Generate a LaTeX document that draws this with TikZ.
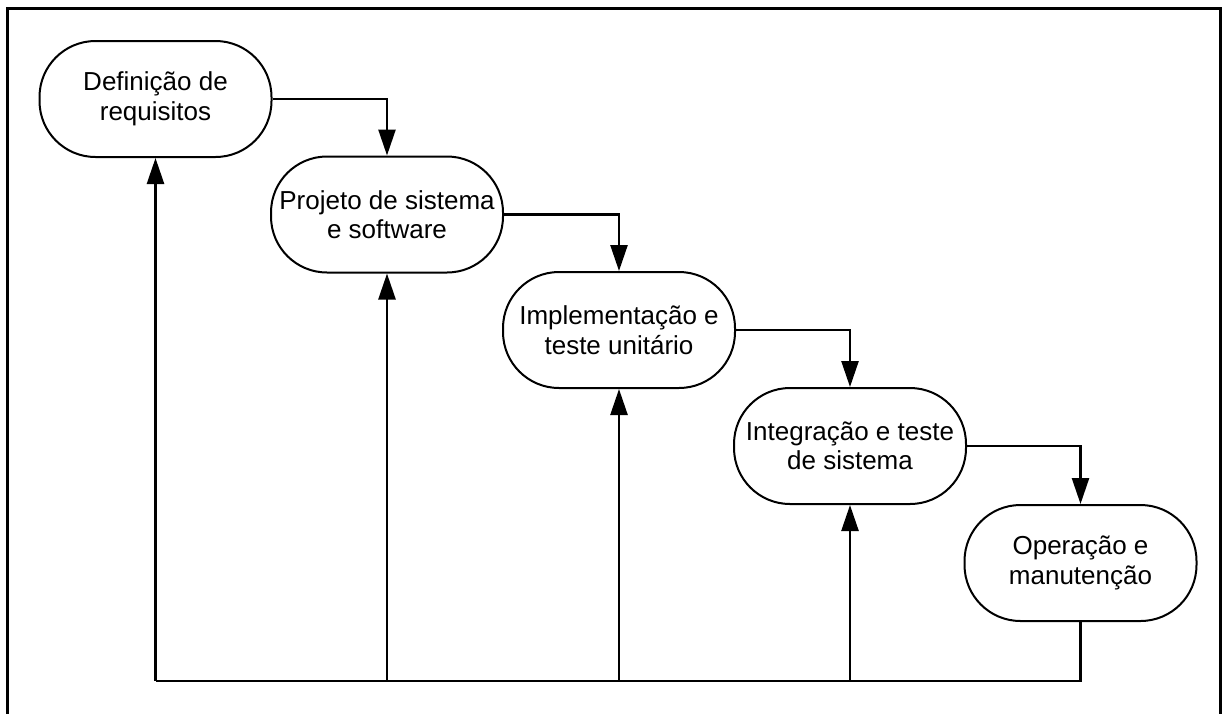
\documentclass[tikz,border=0pt]{standalone}
\usepackage{fontspec}
\setmainfont{Liberation Sans}
\usetikzlibrary{arrows.meta}
\begin{document}
\begin{tikzpicture}[x=1pt,y=-1pt,
  phase/.style={draw=black, line width=2pt, rounded corners=56pt,
    minimum width=232pt, minimum height=116pt, align=center,
    inner sep=0pt, font=\fontsize{26}{29.5}\selectfont},
  link/.style={draw=black, line width=2.5pt},
  arr/.style={link, -{Triangle[length=26pt,width=17pt]}}]
  \useasboundingbox (0,0) rectangle (1222,713);
  % outer frame (open at the bottom)
  \draw[line width=3pt] (7,720) -- (7,8) -- (1220,8) -- (1220,720);

  \node[phase] (n1) at (155.5,99) {Definição de\\requisitos};
  \node[phase] (n2) at (387,214.5) {Projeto de sistema\\e software};
  \node[phase] (n3) at (619,330) {Implementação e\\teste unitário};
  \node[phase] (n4) at (850,446) {Integração e teste\\de sistema};
  \node[phase] (n5) at (1080.5,563) {Operação e\\manutenção};

  % forward flow
  \draw[arr] (n1.east) -| (n2.north);
  \draw[arr] (n2.east) -| (n3.north);
  \draw[arr] (n3.east) -| (n4.north);
  \draw[arr] (n4.east) -| (n5.north);

  % feedback line
  \coordinate (base) at (155.5,681);
  \draw[link] (n5.south) |- (base);
  \draw[arr] (n1 |- base) -- (n1.south);
  \draw[arr] (n2 |- base) -- (n2.south);
  \draw[arr] (n3 |- base) -- (n3.south);
  \draw[arr] (n4 |- base) -- (n4.south);
\end{tikzpicture}
\end{document}
